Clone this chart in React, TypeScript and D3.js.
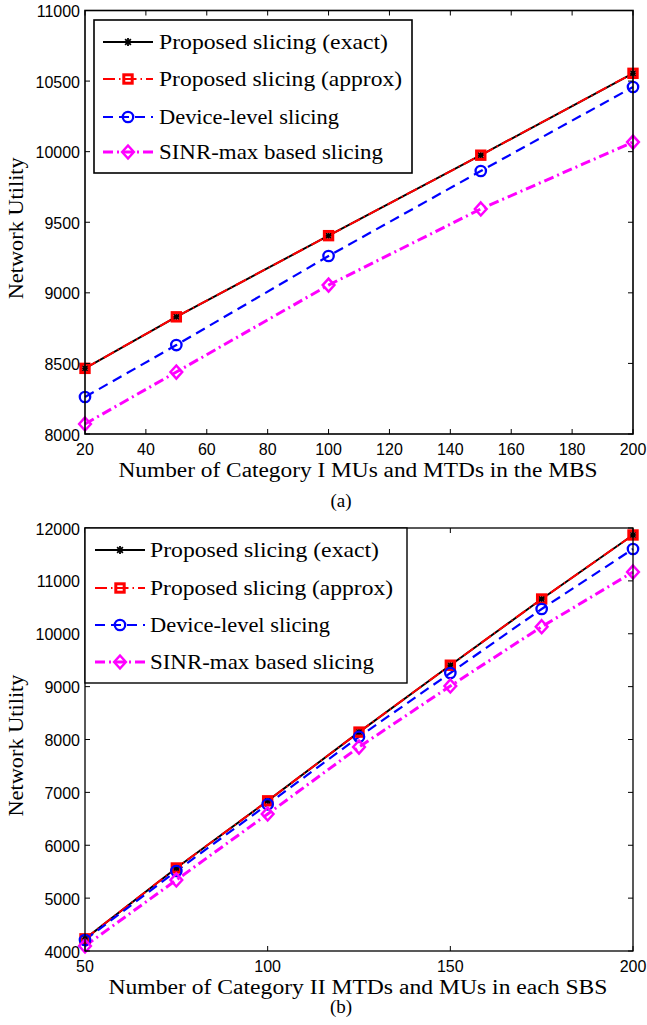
import React from "react";
import * as d3 from "d3";

// Panel (a): users in the macro base station
const unitsA = [20, 50, 100, 150, 200];
const exactA = [8465, 8830, 9405, 9975, 10555];
const approxA = [8465, 8830, 9405, 9975, 10555];
const deviceA = [8262, 8630, 9261, 9863, 10458];
const sinrA = [8071, 8439, 9055, 9594, 10068];
const xTicksA = [20, 40, 60, 80, 100, 120, 140, 160, 180, 200];
const yTicksA = [8000, 8500, 9000, 9500, 10000, 10500, 11000];

// Panel (b): devices in each small base station
const unitsB = [50, 75, 100, 125, 150, 175, 200];
const exactB = [4230, 5570, 6840, 8140, 9405, 10657, 11868];
const approxB = [4230, 5570, 6840, 8140, 9405, 10657, 11868];
const deviceB = [4208, 5513, 6774, 8050, 9258, 10468, 11603];
const sinrB = [4095, 5343, 6591, 7858, 9012, 10133, 11168];
const xTicksB = [50, 100, 150, 200];
const yTicksB = [4000, 5000, 6000, 7000, 8000, 9000, 10000, 11000, 12000];

const seriesNames = [
  "Proposed slicing (exact)",
  "Proposed slicing (approx)",
  "Device-level slicing",
  "SINR-max based slicing",
];
const nameWidths = [229, 243, 180, 224];

const SERIF = "'Liberation Serif', 'Times New Roman', serif";
const SANS = "'Liberation Sans', Arial, sans-serif";

type Style = {
  color: string;
  width: number;
  dash?: string;
  marker: "star" | "square" | "circle" | "diamond";
};

const styles: Style[] = [
  { color: "#000000", width: 2, marker: "star" },
  { color: "#ff0000", width: 2, dash: "12 4 1.5 4", marker: "square" },
  { color: "#0000ff", width: 2.2, dash: "10 6", marker: "circle" },
  { color: "#ff00ff", width: 3, dash: "10 4 2 4", marker: "diamond" },
];

function Marker({ kind, x, y, color }: { kind: Style["marker"]; x: number; y: number; color: string }) {
  if (kind === "star") {
    const r = 4;
    const d = r * 0.72;
    return (
      <g stroke={color} strokeWidth={1.8}>
        <line x1={x - r} y1={y} x2={x + r} y2={y} />
        <line x1={x} y1={y - r} x2={x} y2={y + r} />
        <line x1={x - d} y1={y - d} x2={x + d} y2={y + d} />
        <line x1={x - d} y1={y + d} x2={x + d} y2={y - d} />
      </g>
    );
  }
  if (kind === "square") {
    return <rect x={x - 4.2} y={y - 4.2} width={8.4} height={8.4} fill="none" stroke={color} strokeWidth={3} />;
  }
  if (kind === "circle") {
    return <circle cx={x} cy={y} r={5.2} fill="none" stroke={color} strokeWidth={2.3} />;
  }
  const h = 6.5;
  return (
    <path
      d={`M${x},${y - h}L${x + h * 0.9},${y}L${x},${y + h}L${x - h * 0.9},${y}Z`}
      fill="none"
      stroke={color}
      strokeWidth={2.5}
    />
  );
}

type PanelProps = {
  left: number;
  right: number;
  top: number;
  bottom: number;
  xDomain: [number, number];
  yDomain: [number, number];
  xTicks: number[];
  yTicks: number[];
  xs: number[];
  series: number[][];
  xTitle: string;
  xTitleWidth: number;
  caption: string;
  captionOffset: number;
  legend: { x0: number; y0: number; x1: number; y1: number; rows: number[]; sample: [number, number]; textX: number; lw: number };
  axisWidth: number;
};

function Panel(p: PanelProps) {
  const x = d3.scaleLinear().domain(p.xDomain).range([p.left, p.right]);
  const y = d3.scaleLinear().domain(p.yDomain).range([p.bottom, p.top]);
  const line = d3
    .line<number>()
    .x((_, i) => x(p.xs[i]))
    .y((v) => y(v));
  const tl = 5;
  const midX = (p.left + p.right) / 2;
  const midY = (p.top + p.bottom) / 2;
  const L = p.legend;
  return (
    <g>
      {/* series lines */}
      {p.series.map((vals, si) => (
        <path
          key={"l" + si}
          d={line(vals) || ""}
          fill="none"
          stroke={styles[si].color}
          strokeWidth={styles[si].width}
          strokeDasharray={styles[si].dash}
        />
      ))}
      {/* series markers */}
      {p.series.map((vals, si) => (
        <g key={"m" + si}>
          {vals.map((v, i) => (
            <Marker key={i} kind={styles[si].marker} x={x(p.xs[i])} y={y(v)} color={styles[si].color} />
          ))}
        </g>
      ))}
      {/* axes box */}
      <rect
        x={p.left}
        y={p.top}
        width={p.right - p.left}
        height={p.bottom - p.top}
        fill="none"
        stroke="#000"
        strokeWidth={p.axisWidth}
      />
      {p.xTicks.map((t) => (
        <g key={"xt" + t}>
          <line x1={x(t)} x2={x(t)} y1={p.bottom} y2={p.bottom - tl} stroke="#000" strokeWidth={1} />
          <line x1={x(t)} x2={x(t)} y1={p.top} y2={p.top + tl} stroke="#000" strokeWidth={1} />
          <text x={x(t)} y={p.bottom + 21} textAnchor="middle" fontFamily={SANS} fontSize={16}>
            {t}
          </text>
        </g>
      ))}
      {p.yTicks.map((t) => (
        <g key={"yt" + t}>
          <line x1={p.left} x2={p.left + tl} y1={y(t)} y2={y(t)} stroke="#000" strokeWidth={1} />
          <line x1={p.right} x2={p.right - tl} y1={y(t)} y2={y(t)} stroke="#000" strokeWidth={1} />
          <text x={p.left - 5} y={y(t) + 6.5} textAnchor="end" fontFamily={SANS} fontSize={16}>
            {t}
          </text>
        </g>
      ))}
      {/* legend */}
      <rect x={L.x0} y={L.y0} width={L.x1 - L.x0} height={L.y1 - L.y0} fill="#fff" stroke="#000" strokeWidth={L.lw} />
      {seriesNames.map((name, i) => {
        const ry = L.rows[i];
        const st = styles[i];
        return (
          <g key={"lg" + i}>
            <line
              x1={L.sample[0]}
              x2={L.sample[1]}
              y1={ry}
              y2={ry}
              stroke={st.color}
              strokeWidth={st.width}
              strokeDasharray={st.dash}
            />
            <Marker kind={st.marker} x={(L.sample[0] + L.sample[1]) / 2} y={ry} color={st.color} />
            <text
              x={L.textX}
              y={ry + 7}
              fontFamily={SERIF}
              fontSize={21}
              textLength={nameWidths[i]}
              lengthAdjust="spacingAndGlyphs"
            >
              {name}
            </text>
          </g>
        );
      })}
      {/* axis titles */}
      <text
        x={midX - 1}
        y={p.bottom + 43}
        textAnchor="middle"
        fontFamily={SERIF}
        fontSize={20}
        textLength={p.xTitleWidth}
        lengthAdjust="spacingAndGlyphs"
      >
        {p.xTitle}
      </text>
      <text
        transform={`translate(23,${midY + 6}) rotate(-90)`}
        textAnchor="middle"
        fontFamily={SERIF}
        fontSize={20}
        textLength={142}
        lengthAdjust="spacingAndGlyphs"
      >
        Network Utility
      </text>
      <text x={341} y={p.bottom + p.captionOffset} textAnchor="middle" fontFamily={SERIF} fontSize={19}>
        {p.caption}
      </text>
    </g>
  );
}

export default function App() {
  return (
    <svg
      width={647}
      height={1025}
      style={{ position: "absolute", left: 0, top: 0, background: "#fff" }}
    >
      <rect x={0} y={0} width={647} height={1025} fill="#fff" />
      <Panel
        left={85}
        right={633}
        top={10.5}
        bottom={434}
        xDomain={[20, 200]}
        yDomain={[8000, 11000]}
        xTicks={xTicksA}
        yTicks={yTicksA}
        xs={unitsA}
        series={[exactA, approxA, deviceA, sinrA]}
        xTitle="Number of Category I MUs and MTDs in the MBS"
        xTitleWidth={479}
        caption="(a)"
        captionOffset={73}
        legend={{ x0: 94, y0: 20, x1: 412, y1: 173, rows: [42, 79, 117, 152], sample: [103, 153], textX: 159, lw: 1.6 }}
        axisWidth={1.6}
      />
      <Panel
        left={85}
        right={633}
        top={528}
        bottom={951}
        xDomain={[50, 200]}
        yDomain={[4000, 12000]}
        xTicks={xTicksB}
        yTicks={yTicksB}
        xs={unitsB}
        series={[exactB, approxB, deviceB, sinrB]}
        xTitle="Number of Category II MTDs and MUs in each SBS"
        xTitleWidth={499}
        caption="(b)"
        captionOffset={62}
        legend={{ x0: 85, y0: 528, x1: 407, y1: 683, rows: [550, 588, 625, 662], sample: [95, 145], textX: 150, lw: 1.4 }}
        axisWidth={1.3}
      />
    </svg>
  );
}
